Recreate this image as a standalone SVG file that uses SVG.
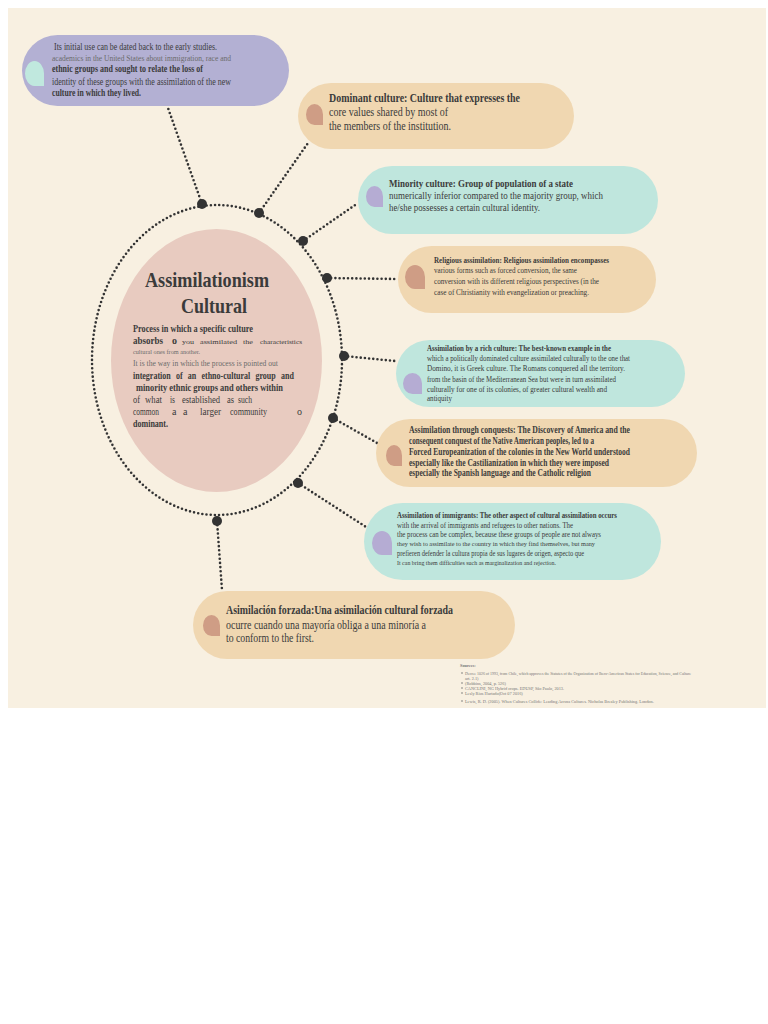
<svg xmlns="http://www.w3.org/2000/svg" xmlns:xlink="http://www.w3.org/1999/xlink" width="768" height="1024" viewBox="0 0 768 1024">
<defs>
<style>
.t{font-family:"Liberation Serif","DejaVu Serif",serif;fill:#3b3b3b}
.b{font-weight:bold}
.g{fill:#6b6b6b}
.con{fill:none;stroke:#333;stroke-width:2.6;stroke-linecap:round;stroke-dasharray:0 4.2}
.dot{fill:#333}
.purple{fill:#b3b0d3}
.peach{fill:#f0d7b1}
.mint{fill:#bfe6dd}
.ic-m{fill:#c0e8de}
.ic-p{fill:#cf9d85}
.ic-v{fill:#b5acd3}
.src{font-family:"Liberation Serif",serif;fill:#777;font-size:4.3px}
</style>
<path id="drop" d="M0,0.5 A0.5,0.5 0 0 1 0.5,0 A0.5,0.5 0 0 1 1,0.5 L1,1 L0.5,1 A0.5,0.5 0 0 1 0,0.5 Z"/>
</defs>
<rect x="0" y="0" width="768" height="1024" fill="#ffffff"/>
<rect x="8" y="8" width="758" height="700" fill="#f8f0e1"/>

<g id="connectors">
<ellipse class="con" cx="217" cy="360" rx="125" ry="155"/>
<line class="con" x1="202" y1="204" x2="168" y2="108"/>
<line class="con" x1="259" y1="213" x2="308" y2="143"/>
<line class="con" x1="303" y1="241" x2="358" y2="203"/>
<line class="con" x1="327" y1="278" x2="398" y2="279"/>
<line class="con" x1="344" y1="356" x2="395" y2="361"/>
<line class="con" x1="333" y1="418" x2="377" y2="443"/>
<line class="con" x1="298" y1="483" x2="366" y2="527"/>
<line class="con" x1="217" y1="521" x2="222" y2="590"/>
<circle class="dot" cx="202" cy="204" r="5"/>
<circle class="dot" cx="259" cy="213" r="5"/>
<circle class="dot" cx="303" cy="241" r="5"/>
<circle class="dot" cx="327" cy="278" r="5"/>
<circle class="dot" cx="344" cy="356" r="5"/>
<circle class="dot" cx="333" cy="418" r="5"/>
<circle class="dot" cx="298" cy="483" r="5"/>
<circle class="dot" cx="217" cy="521" r="5"/>
</g>

<g id="center">
<ellipse cx="216.5" cy="360.5" rx="105.5" ry="131.5" fill="#e8cbc0"/>
<text class="t b" x="145" y="287" font-size="21" textLength="124" lengthAdjust="spacingAndGlyphs">Assimilationism</text>
<text class="t b" x="181" y="313" font-size="21" textLength="66" lengthAdjust="spacingAndGlyphs">Cultural</text>
<text class="t b" x="133" y="332" font-size="10" textLength="120" lengthAdjust="spacingAndGlyphs">Process in which a specific culture</text>
<text class="t" y="344" font-size="6.5"><tspan class="b" x="133" font-size="10" textLength="30" lengthAdjust="spacingAndGlyphs">absorbs</tspan><tspan class="b" x="172" font-size="10">o</tspan><tspan x="182" textLength="12" lengthAdjust="spacingAndGlyphs">you</tspan><tspan x="200" textLength="37" lengthAdjust="spacingAndGlyphs">assimilated</tspan><tspan x="243" textLength="10" lengthAdjust="spacingAndGlyphs">the</tspan><tspan x="260" textLength="42" lengthAdjust="spacingAndGlyphs">characteristics</tspan></text>
<text class="t g" x="133" y="354" font-size="6.5" textLength="67" lengthAdjust="spacingAndGlyphs">cultural ones from another.</text>
<text class="t g" x="133" y="366" font-size="7.5" textLength="145" lengthAdjust="spacingAndGlyphs">It is the way in which the process is pointed out</text>
<text class="t b" transform="translate(133,379) scale(0.8,1)" font-size="10" word-spacing="4">integration of an ethno-cultural group and</text>
<text class="t b" x="136" y="391" font-size="10" textLength="147" lengthAdjust="spacingAndGlyphs">minority ethnic groups and others within</text>
<text class="t" y="403" font-size="10"><tspan x="133" textLength="7" lengthAdjust="spacingAndGlyphs">of</tspan><tspan x="145" textLength="17" lengthAdjust="spacingAndGlyphs">what</tspan><tspan x="170" textLength="5" lengthAdjust="spacingAndGlyphs">is</tspan><tspan x="182" textLength="38" lengthAdjust="spacingAndGlyphs">established</tspan><tspan x="227" textLength="7" lengthAdjust="spacingAndGlyphs">as</tspan><tspan x="238" textLength="14" lengthAdjust="spacingAndGlyphs">such</tspan></text>
<text class="t" y="415" font-size="10"><tspan x="133" textLength="26" lengthAdjust="spacingAndGlyphs">common</tspan><tspan x="172">a</tspan><tspan x="183">a</tspan><tspan x="200" textLength="21" lengthAdjust="spacingAndGlyphs">larger</tspan><tspan x="230" textLength="37" lengthAdjust="spacingAndGlyphs">community</tspan><tspan x="297">o</tspan></text>
<text class="t b" x="133" y="427" font-size="10" textLength="35" lengthAdjust="spacingAndGlyphs">dominant.</text>
</g>

<g id="node-origin">
<rect class="purple" x="22" y="35" width="267" height="71" rx="35.5"/>
<use xlink:href="#drop" class="ic-m" transform="translate(25,61) scale(19,25)"/>
<text class="t" x="54" y="50" font-size="9.5" textLength="163" lengthAdjust="spacingAndGlyphs">Its initial use can be dated back to the early studies.</text>
<text class="t g" x="52" y="61" font-size="9" textLength="179" lengthAdjust="spacingAndGlyphs">academics in the United States about immigration, race and</text>
<text class="t b" x="52" y="72" font-size="9.5" textLength="151" lengthAdjust="spacingAndGlyphs">ethnic groups and sought to relate the loss of</text>
<text class="t" x="52" y="85" font-size="9.5" textLength="179" lengthAdjust="spacingAndGlyphs">identity of these groups with the assimilation of the new</text>
<text class="t b" x="52" y="96" font-size="9.5" textLength="89" lengthAdjust="spacingAndGlyphs">culture in which they lived.</text>
</g>

<g id="node-dominant">
<rect class="peach" x="298" y="83" width="276" height="66" rx="33"/>
<use xlink:href="#drop" class="ic-p" transform="translate(306,104) scale(17,21)"/>
<text class="t b" x="329" y="102" font-size="12" textLength="191" lengthAdjust="spacingAndGlyphs">Dominant culture: Culture that expresses the</text>
<text class="t" x="329" y="116" font-size="12" textLength="119" lengthAdjust="spacingAndGlyphs">core values shared by most of</text>
<text class="t" x="329" y="130" font-size="12" textLength="122" lengthAdjust="spacingAndGlyphs">the members of the institution.</text>
</g>

<g id="node-minority">
<rect class="mint" x="358" y="166" width="300" height="68" rx="34"/>
<use xlink:href="#drop" class="ic-v" transform="translate(366,186) scale(17,21)"/>
<text class="t b" x="389" y="187" font-size="11" textLength="184" lengthAdjust="spacingAndGlyphs">Minority culture: Group of population of a state</text>
<text class="t" x="389" y="199" font-size="11" textLength="214" lengthAdjust="spacingAndGlyphs">numerically inferior compared to the majority group, which</text>
<text class="t" x="389" y="211" font-size="11" textLength="151" lengthAdjust="spacingAndGlyphs">he/she possesses a certain cultural identity.</text>
</g>

<g id="node-religious">
<rect class="peach" x="398" y="246" width="258" height="67" rx="33.5"/>
<use xlink:href="#drop" class="ic-p" transform="translate(405,265) scale(20,24)"/>
<text class="t b" x="434" y="263" font-size="8.5" textLength="175" lengthAdjust="spacingAndGlyphs">Religious assimilation: Religious assimilation encompasses</text>
<text class="t" x="434" y="273" font-size="8.5" textLength="143" lengthAdjust="spacingAndGlyphs">various forms such as forced conversion, the same</text>
<text class="t" x="434" y="284" font-size="8.5" textLength="165" lengthAdjust="spacingAndGlyphs">conversion with its different religious perspectives (in the</text>
<text class="t" x="434" y="295" font-size="8.5" textLength="155" lengthAdjust="spacingAndGlyphs">case of Christianity with evangelization or preaching.</text>
</g>

<g id="node-rich">
<rect class="mint" x="396" y="340" width="289" height="67" rx="33.5"/>
<use xlink:href="#drop" class="ic-v" transform="translate(403,373) scale(19,21)"/>
<text class="t b" x="427" y="351" font-size="8" textLength="184" lengthAdjust="spacingAndGlyphs">Assimilation by a rich culture: The best-known example in the</text>
<text class="t" x="427" y="361" font-size="8" textLength="203" lengthAdjust="spacingAndGlyphs">which a politically dominated culture assimilated culturally to the one that</text>
<text class="t" x="427" y="371" font-size="8" textLength="198" lengthAdjust="spacingAndGlyphs">Domino, it is Greek culture. The Romans conquered all the territory.</text>
<text class="t" x="427" y="382" font-size="8" textLength="189" lengthAdjust="spacingAndGlyphs">from the basin of the Mediterranean Sea but were in turn assimilated</text>
<text class="t" x="427" y="392" font-size="8" textLength="180" lengthAdjust="spacingAndGlyphs">culturally for one of its colonies, of greater cultural wealth and</text>
<text class="t" x="427" y="401" font-size="8" textLength="25" lengthAdjust="spacingAndGlyphs">antiquity</text>
</g>

<g id="node-conquests">
<rect class="peach" x="376" y="419" width="321" height="68" rx="34"/>
<use xlink:href="#drop" class="ic-p" transform="translate(386,445) scale(16,21)"/>
<text class="t b" x="409" y="433" font-size="9.5" textLength="221" lengthAdjust="spacingAndGlyphs">Assimilation through conquests: The Discovery of America and the</text>
<text class="t b" x="409" y="444" font-size="9.5" textLength="185" lengthAdjust="spacingAndGlyphs">consequent conquest of the Native American peoples, led to a</text>
<text class="t b" x="409" y="455" font-size="9.5" textLength="221" lengthAdjust="spacingAndGlyphs">Forced Europeanization of the colonies in the New World understood</text>
<text class="t b" x="409" y="466" font-size="9.5" textLength="200" lengthAdjust="spacingAndGlyphs">especially like the Castilianization in which they were imposed</text>
<text class="t b" x="409" y="476" font-size="9.5" textLength="182" lengthAdjust="spacingAndGlyphs">especially the Spanish language and the Catholic religion</text>
</g>

<g id="node-immigrants">
<rect class="mint" x="364" y="503" width="297" height="77" rx="38.5"/>
<use xlink:href="#drop" class="ic-v" transform="translate(372,531) scale(20,24)"/>
<text class="t b" x="397" y="518" font-size="8" textLength="220" lengthAdjust="spacingAndGlyphs">Assimilation of immigrants: The other aspect of cultural assimilation occurs</text>
<text class="t" x="397" y="528" font-size="8" textLength="176" lengthAdjust="spacingAndGlyphs">with the arrival of immigrants and refugees to other nations. The</text>
<text class="t" x="397" y="537" font-size="8" textLength="204" lengthAdjust="spacingAndGlyphs">the process can be complex, because these groups of people are not always</text>
<text class="t" x="397" y="546" font-size="6.5" textLength="198" lengthAdjust="spacingAndGlyphs">they wish to assimilate to the country in which they find themselves, but many</text>
<text class="t" x="397" y="556" font-size="8" textLength="187" lengthAdjust="spacingAndGlyphs">prefieren defender la cultura propia de sus lugares de origen, aspecto que</text>
<text class="t" x="397" y="565" font-size="6.5" textLength="159" lengthAdjust="spacingAndGlyphs">It can bring them difficulties such as marginalization and rejection.</text>
</g>

<g id="node-forced">
<rect class="peach" x="193" y="591" width="322" height="68" rx="34"/>
<use xlink:href="#drop" class="ic-p" transform="translate(203,615) scale(17,21)"/>
<text class="t b" x="226" y="614" font-size="12" textLength="227" lengthAdjust="spacingAndGlyphs">Asimilación forzada:Una asimilación cultural forzada</text>
<text class="t" x="226" y="629" font-size="12" textLength="200" lengthAdjust="spacingAndGlyphs">ocurre cuando una mayoría obliga a una minoría a</text>
<text class="t" x="226" y="642" font-size="12" textLength="88" lengthAdjust="spacingAndGlyphs">to conform to the first.</text>
</g>

<g id="sources">
<text class="src" x="460" y="667" font-weight="bold">Sources:</text>
<circle cx="462" cy="673" r="0.8" fill="#777"/>
<text class="src" x="465" y="674.5" textLength="226" lengthAdjust="spacingAndGlyphs">Decree 1026 of 1993, from Chile, which approves the Statutes of the Organization of Ibero-American States for Education, Science, and Culture</text>
<text class="src" x="465" y="679.5">art. 2.1)</text>
<circle cx="462" cy="683" r="0.8" fill="#777"/>
<text class="src" x="465" y="684.5">(Robbins, 2004, p. 526)</text>
<circle cx="462" cy="688" r="0.8" fill="#777"/>
<text class="src" x="465" y="689.5">CANCLINI, NG Hybrid crops. EDUSP, São Paulo, 2013.</text>
<circle cx="462" cy="693" r="0.8" fill="#777"/>
<text class="src" x="465" y="694.5">Lesly Rios Hurtado(Oct 07 2016)</text>
<circle cx="462" cy="701" r="0.8" fill="#777"/>
<text class="src" x="465" y="702.5">Lewis, R. D. (2005). When Cultures Collide: Leading Across Cultures. Nicholas Brealey Publishing. London.</text>
</g>
</svg>
